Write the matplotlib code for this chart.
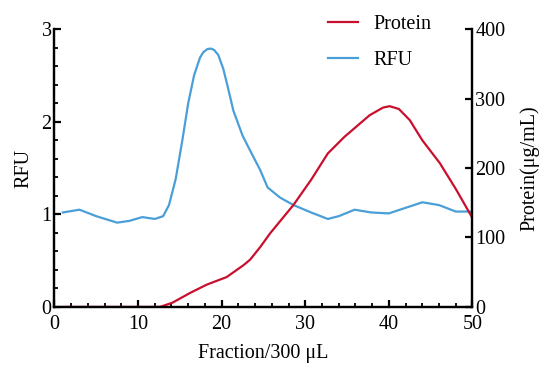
import matplotlib
matplotlib.use('Agg')
import matplotlib.pyplot as plt
from matplotlib.ticker import MultipleLocator

# values
rfu_x = [1, 3, 5, 7.5, 9, 10.5, 12, 13, 13.7, 14.5, 15.3, 16, 16.7, 17.4, 17.8, 18.3,
         18.7, 19.1, 19.6, 20.2, 20.8, 21.4, 22.5, 23.4, 24.6, 25.5, 27, 28.6,
         30.7, 32.7, 34, 35.9, 37.9, 40, 42, 44, 46, 48, 50]
rfu_y = [1.02, 1.05, 0.98, 0.91, 0.93, 0.97, 0.95, 0.98, 1.1, 1.38, 1.8, 2.2, 2.5,
         2.69, 2.75, 2.785, 2.79, 2.775, 2.72, 2.57, 2.35, 2.12, 1.85, 1.69, 1.48,
         1.29, 1.18, 1.10, 1.02, 0.95, 0.98, 1.05, 1.02, 1.01, 1.07, 1.13, 1.1,
         1.03, 1.03]

prot_x = [1, 5, 10, 12.6, 14.1, 16.2, 18.2, 20.6, 22.6, 23.4, 24.6, 25.8, 28.6,
          30.7, 32.7, 34.7, 37.7, 39.3, 40.1, 41.2, 42.5, 44, 46.1, 48, 50]
prot_y = [0, 0, 0, 0, 6, 20, 32, 43, 60, 68, 86, 106, 147, 183, 221, 245, 276,
          287, 289, 285, 269, 240, 207, 170, 128]

red = '#C8102E'
blue = '#4A9FD8'

plt.rcParams['font.family'] = ['Liberation Serif', 'DejaVu Serif']

fig = plt.figure(figsize=(5.5, 3.78), dpi=100)
ax = fig.add_axes([0.099, 0.188, 0.76, 0.735])
ax2 = ax.twinx()

l1, = ax2.plot(prot_x, prot_y, color=red, lw=1.6, label='Protein')
l2, = ax.plot(rfu_x, rfu_y, color=blue, lw=1.6, label='RFU')

ax.set_xlim(0, 50)
ax.set_ylim(0, 3)
ax2.set_ylim(0, 400)
ax.xaxis.set_major_locator(MultipleLocator(10))
ax.xaxis.set_minor_locator(MultipleLocator(2))
ax.yaxis.set_major_locator(MultipleLocator(1))
ax.yaxis.set_minor_locator(MultipleLocator(0.2))
ax2.yaxis.set_major_locator(MultipleLocator(100))

for a in (ax, ax2):
    for s in a.spines.values():
        s.set_linewidth(1.6)
    a.spines['top'].set_visible(False)
    a.tick_params(which='major', direction='in', length=5, width=1.6, labelsize=14.5, pad=2)
    a.tick_params(which='minor', direction='in', length=3, width=1.3)
ax.tick_params(axis='x', pad=6)

ax.set_xlabel('Fraction/300 μL', fontsize=14.5, labelpad=7)
ax.set_ylabel('RFU', fontsize=14.5, labelpad=6)
ax2.set_ylabel('Protein(μg/mL)', fontsize=14.5, labelpad=10)

leg = ax2.legend(handles=[l1, l2], loc='upper left', bbox_to_anchor=(0.612, 1.115),
                 frameon=False, fontsize=14.5, handlelength=1.45, handletextpad=0.8,
                 labelspacing=0.8)

fig.savefig('out.png', dpi=100)
